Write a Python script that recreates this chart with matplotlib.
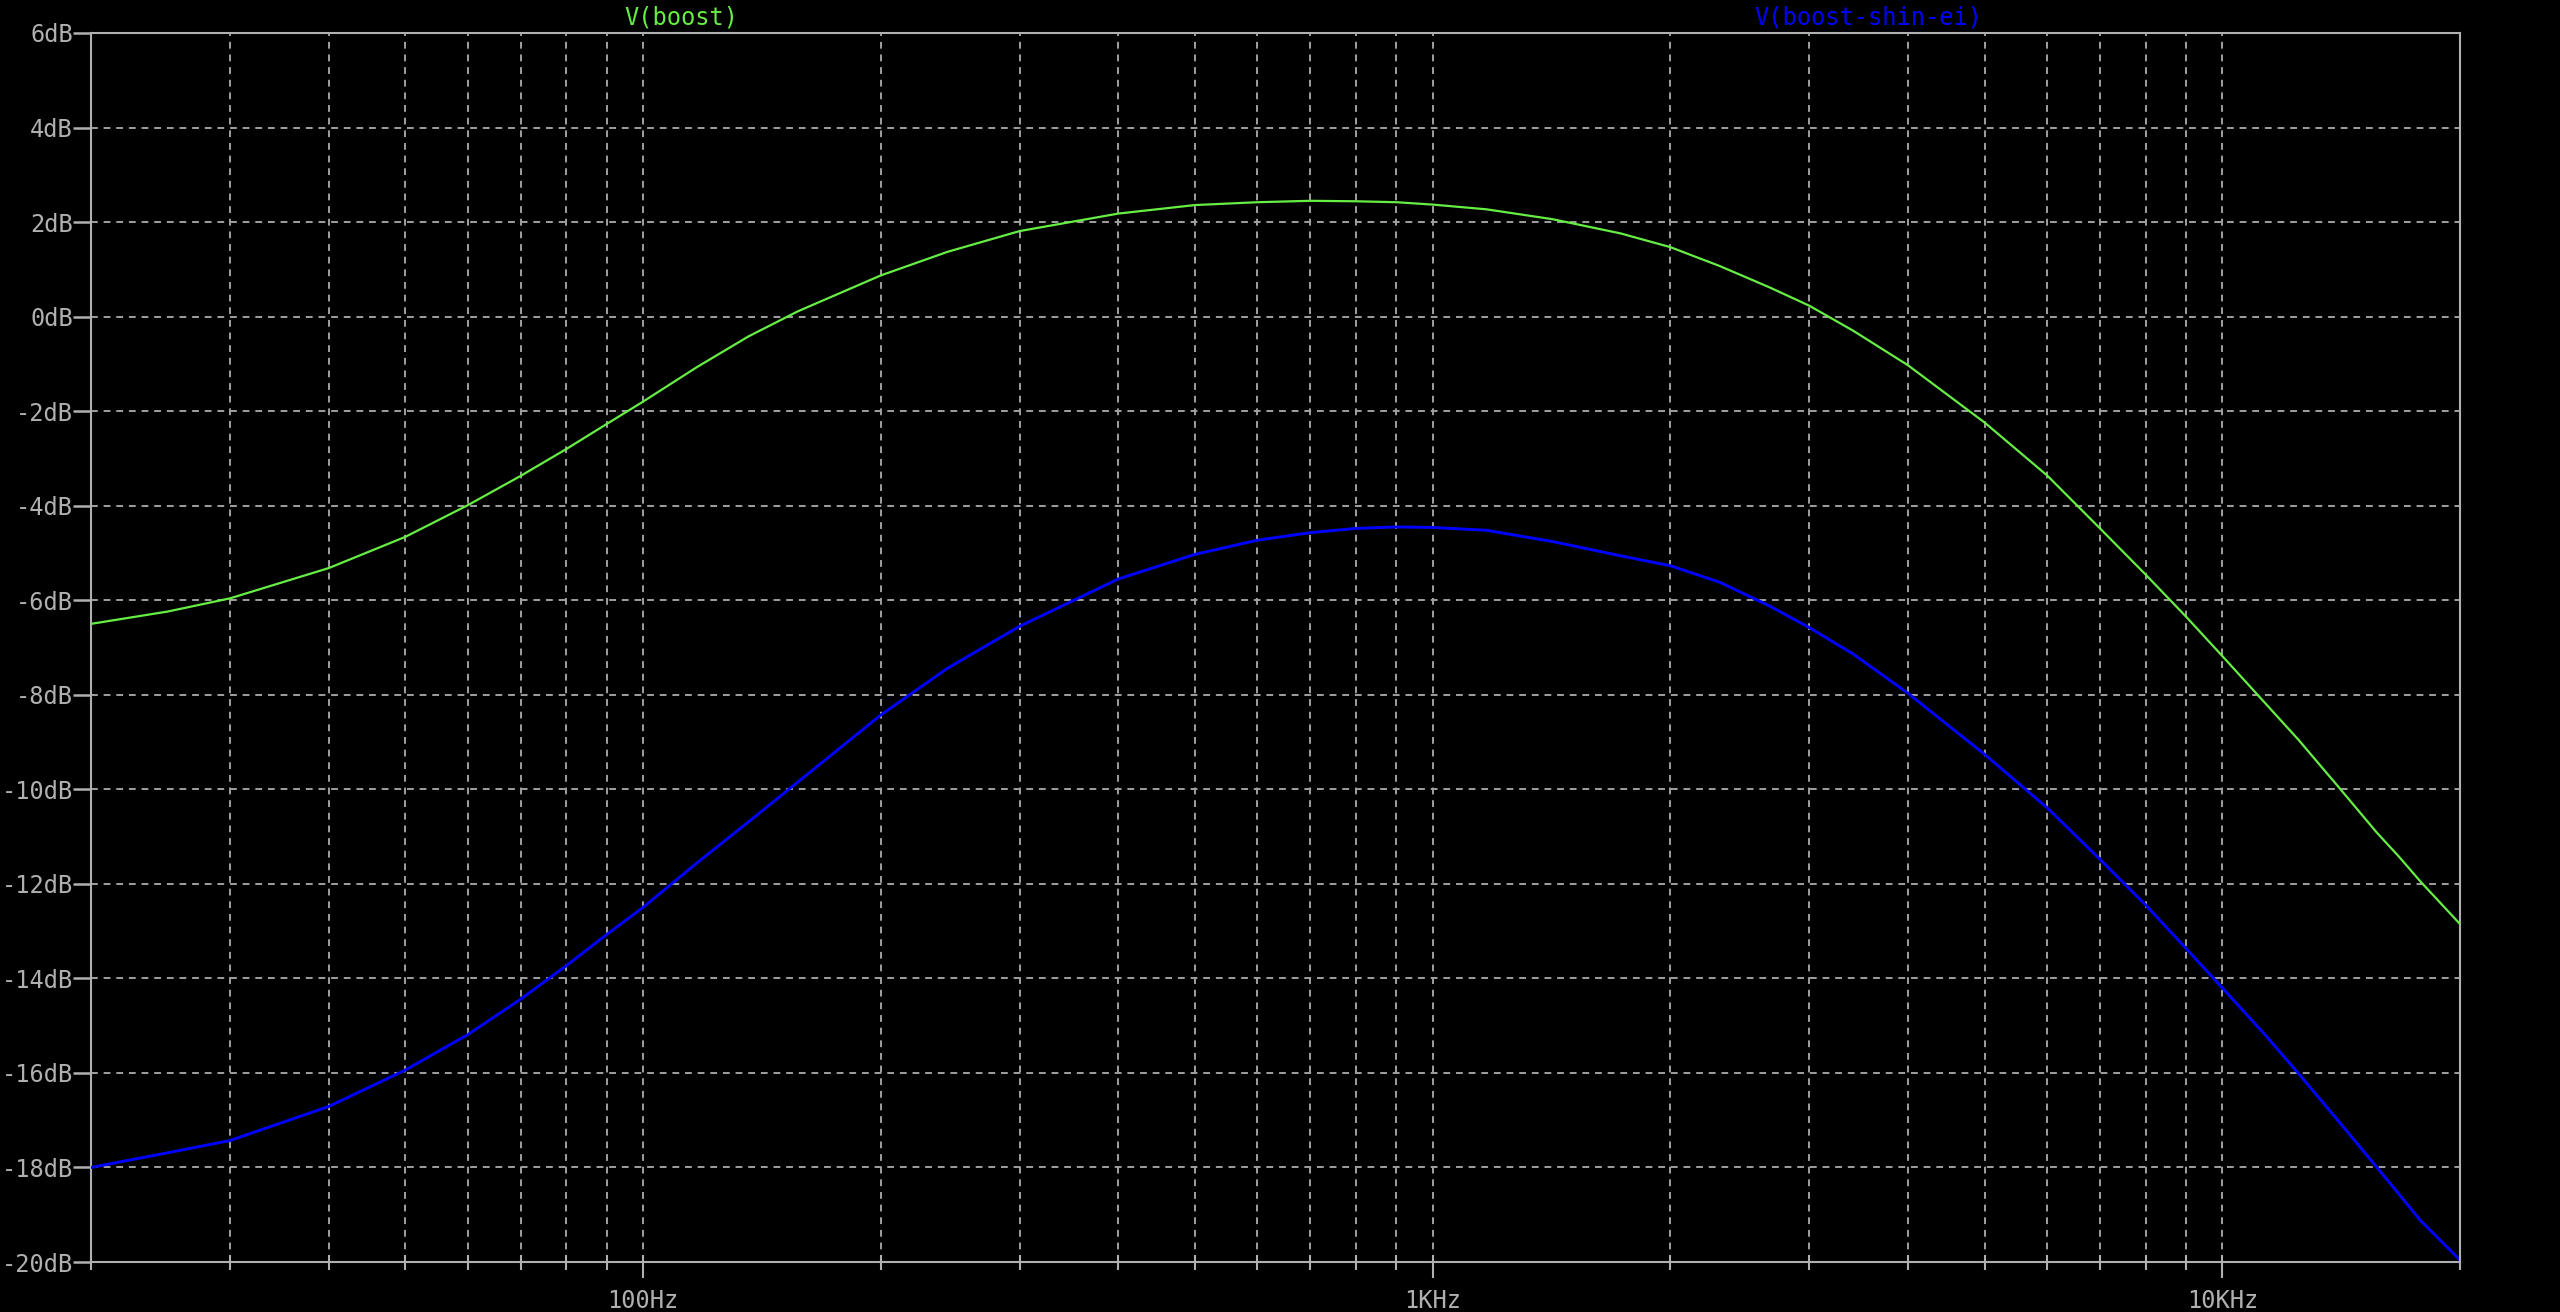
import matplotlib
matplotlib.use("Agg")
import matplotlib.pyplot as plt
from matplotlib.ticker import FixedLocator, NullFormatter

# frequency points (Hz)
freq = [20, 25, 30, 40, 50, 60, 70, 80, 90, 100, 117, 136, 157, 200, 243, 300, 400, 500, 600, 700, 800, 900,
        1000, 1170, 1420, 1730, 2000, 2310, 2670, 3000, 3410, 4000, 5000, 6000, 7000, 8000, 9000,
        10000, 11350, 12500, 14050, 15700, 16730, 17820, 20000]

# V(boost) in dB
boost_db = [-6.50, -6.24, -5.96, -5.32, -4.66, -3.99, -3.37, -2.80, -2.27, -1.80, -1.07, -0.42, 0.11, 0.87,
            1.37, 1.81, 2.18, 2.36, 2.42, 2.45, 2.44, 2.42, 2.37, 2.27, 2.06, 1.76, 1.47, 1.07, 0.62, 0.23,
            -0.30, -1.03, -2.24, -3.36, -4.48, -5.46, -6.35, -7.18, -8.19, -8.96, -9.96, -10.92,
            -11.42, -11.95, -12.85]

# V(boost-shin-ei) in dB
shinei_db = [-18.0, -17.69, -17.43, -16.71, -15.94, -15.19, -14.44, -13.73, -13.07, -12.50, -11.56, -10.69,
             -9.85, -8.43, -7.44, -6.55, -5.55, -5.03, -4.73, -4.57, -4.48, -4.45, -4.46, -4.52, -4.76,
             -5.06, -5.27, -5.62, -6.12, -6.58, -7.14, -7.97, -9.26, -10.39, -11.48, -12.45, -13.37,
             -14.20, -15.21, -16.02, -17.03, -18.0, -18.56, -19.12, -19.96]

major_x = [100, 1000, 10000]
major_x_labels = ["100Hz", "1KHz", "10KHz"]
minor_x = [20, 30, 40, 50, 60, 70, 80, 90, 200, 300, 400, 500, 600, 700, 800, 900,
           2000, 3000, 4000, 5000, 6000, 7000, 8000, 9000, 20000]
y_ticks = list(range(-20, 7, 2))
y_labels = [str(v) + "dB" for v in y_ticks]

GREEN = "#66ee44"
BLUE = "#0000ff"
GRAY = "#b0b0b0"
GRIDC = "#a0a0a0"
FONT = "DejaVu Sans Mono"

W, H = 2560, 1312
fig = plt.figure(figsize=(W / 100, H / 100), dpi=100, facecolor="black")
ax = fig.add_axes([91 / W, 1 - 1262 / H, (2460 - 91) / W, (1262 - 33) / H])
ax.set_facecolor("black")

ax.set_xscale("log")
ax.set_xlim(20, 20000)
ax.set_ylim(-20, 6)

# grid lines
for f in major_x + minor_x[1:-1]:
    ax.axvline(f, color=GRIDC, lw=1.4, ls=(0, (3.5, 3)), zorder=1)
for v in y_ticks[1:-1]:
    ax.axhline(v, color=GRIDC, lw=1.4, ls=(0, (3.5, 3)), zorder=1)

ax.plot(freq, boost_db, color=GREEN, lw=1.6, zorder=3)
ax.plot(freq, shinei_db, color=BLUE, lw=2.1, zorder=3)

for s in ax.spines.values():
    s.set_color(GRAY)
    s.set_linewidth(1.5)

ax.xaxis.set_major_locator(FixedLocator(major_x))
ax.xaxis.set_minor_locator(FixedLocator(minor_x))
ax.set_xticklabels(major_x_labels)
ax.xaxis.set_minor_formatter(NullFormatter())
ax.tick_params(axis="x", which="major", direction="out", length=11.5, width=1.5, color=GRAY,
               labelcolor=GRAY, labelsize=17, pad=8)
ax.tick_params(axis="x", which="minor", direction="out", length=5.8, width=1.5, color=GRAY)
ax.set_yticks(y_ticks)
ax.set_yticklabels(y_labels)
ax.tick_params(axis="y", which="major", direction="out", length=13, width=1.8, color=GRAY,
               labelcolor=GRAY, labelsize=17, pad=0)
for lab in ax.get_xticklabels() + ax.get_yticklabels():
    lab.set_family(FONT)

# small inward stubs of the x ticks
ax2 = ax.twiny()
ax2.set_xscale("log")
ax2.set_xlim(20, 20000)
ax2.xaxis.set_ticks_position("bottom")
ax2.xaxis.set_major_locator(FixedLocator(major_x))
ax2.xaxis.set_minor_locator(FixedLocator(minor_x))
ax2.xaxis.set_major_formatter(NullFormatter())
ax2.xaxis.set_minor_formatter(NullFormatter())
ax2.tick_params(axis="x", which="both", direction="in", length=5, width=1.5, color=GRAY)
for s in ax2.spines.values():
    s.set_visible(False)

fig.text(681 / W, 1 - 18 / H, "V(boost)", color=GREEN, fontsize=17, family=FONT,
         ha="center", va="center")
fig.text(1868 / W, 1 - 18 / H, "V(boost-shin-ei)", color=BLUE, fontsize=17, family=FONT,
         ha="center", va="center")

fig.savefig("out.png", dpi=100, facecolor="black")
